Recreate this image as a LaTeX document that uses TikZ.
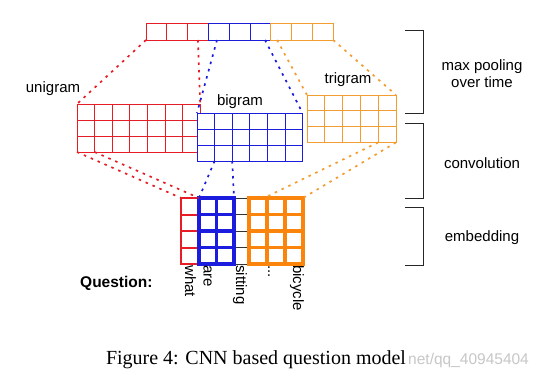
\documentclass[tikz,border=0pt]{standalone}
\usepackage{fontspec}
\setmainfont{Liberation Sans}
\newfontfamily\capfont{Liberation Serif}
\definecolor{myred}{RGB}{232,28,36}
\definecolor{myblue}{RGB}{28,28,222}
\definecolor{myorange}{RGB}{243,156,50}
\definecolor{myorangeD}{RGB}{250,132,12}
\newcommand\mkgrid[8]{%
  \node[#8, fill=white, inner sep=0pt, outer sep=0pt, minimum width={#4*#6*1pt}, minimum height={#5*#7*1pt}, anchor=north west] (#1) at (#2,#3) {};
  \pgfmathtruncatemacro\gnc{#4-1}%
  \pgfmathtruncatemacro\gnr{#5-1}%
  \ifnum\gnc>0 \foreach \gi in {1,...,\gnc} {\draw[#8] ({#2+\gi*#6},#3) -- ({#2+\gi*#6},{#3+#5*#7});}\fi
  \ifnum\gnr>0 \foreach \gi in {1,...,\gnr} {\draw[#8] (#2,{#3+\gi*#7}) -- ({#2+#4*#6},{#3+\gi*#7});}\fi
}
\begin{document}
\begin{tikzpicture}[x=1pt,y=-1pt,
  gR/.style={draw=myred, line width=1pt},
  gB/.style={draw=myblue, line width=1pt},
  gO/.style={draw=myorange, line width=1pt},
  eR/.style={draw=myred, line width=2pt},
  eB/.style={draw=myblue, line width=3.2pt},
  eO/.style={draw=myorangeD, line width=3.2pt},
  conn/.style={line width=1.7pt, dash pattern=on 2.5pt off 5pt},
  lbl/.style={font=\fontsize{15}{18}\selectfont, inner sep=0pt},
  rlbl/.style={font=\fontsize{15}{18}\selectfont, inner sep=0pt, rotate=-90, anchor=base west},
  brk/.style={draw=black!85, line width=1pt}]
\useasboundingbox (0,0) rectangle (545,381);
\fill[white] (0,0) rectangle (545,381);

% convolution grids
\mkgrid{uni}{77}{104}{7}{3}{17.6}{16}{gR}
\mkgrid{bi}{197}{113}{6}{3}{17.6}{16}{gB}
\mkgrid{tri}{307}{95}{5}{3}{17.8}{15.8}{gO}
% pooled vector
\mkgrid{poolR}{146}{23}{3}{1}{20.8}{17}{gR}
\mkgrid{poolB}{208.4}{23}{3}{1}{20.8}{17}{gB}
\mkgrid{poolO}{270.8}{23}{3}{1}{20.8}{17}{gO}
% embedding
\foreach \k in {0,...,4} {\draw[black!80, line width=0.9pt] (233,{198+\k*16.5}) -- (250,{198+\k*16.5});}
\mkgrid{embR}{181}{198}{1}{4}{18}{16.5}{eR}
\mkgrid{embB}{199}{198}{2}{4}{17.5}{16.5}{eB}
\mkgrid{embO}{249}{198}{3}{4}{18}{16.5}{eO}

% named points
\coordinate (pr2) at (198,40);
\coordinate (pb1) at (217,40);
\coordinate (pb2) at (265,40);
\coordinate (po1) at (277,40);
\coordinate (u1) at (94.6,152);
\coordinate (b1) at (214.6,161);
\coordinate (b2) at (232.2,161);
\coordinate (t1) at (378.2,142.4);
\coordinate (eo1) at (264,198);

% connectors
\draw[conn, myred] (poolR.south west) -- (uni.north west);
\draw[conn, myred] (pr2) -- (uni.north east);
\draw[conn, myblue] (pb1) -- (bi.north west);
\draw[conn, myblue] (pb2) -- (bi.north east);
\draw[conn, myorange] (po1) -- (tri.north west);
\draw[conn, myorange] (poolO.south east) -- (tri.north east);
\draw[conn, myred] (uni.south west) -- (embR.north west);
\draw[conn, myred] (u1) -- (embR.north east);
\draw[conn, myblue] (b1) -- (embB.north west);
\draw[conn, myblue] (b2) -- (embB.north east);
\draw[conn, myorange] (t1) -- (eo1);
\draw[conn, myorange] (tri.south east) -- (embO.north east);

% brackets
\draw[brk] (405,30) -- (423,30) -- (423,113) -- (405,113);
\draw[brk] (405,123) -- (423,123) -- (423,198) -- (405,198);
\draw[brk] (405,207) -- (423,207) -- (423,265) -- (405,265);

% labels
\node[lbl, anchor=base] (lu) at (53,92) {unigram};
\node[lbl, anchor=base] (lb) at (240,105) {bigram};
\node[lbl, anchor=base] (lt) at (348,83) {trigram};
\node[lbl, anchor=base] (lm1) at (482,70) {max pooling};
\node[lbl, anchor=base] (lm2) at (482,87) {over time};
\node[lbl, anchor=base] (lc) at (482,168) {convolution};
\node[lbl, anchor=base] (le) at (482,241) {embedding};
\node[lbl, anchor=base west, font=\bfseries\fontsize{15.5}{18}\selectfont] (q) at (80,287) {Question:};
\node[rlbl] (w1) at (185,265) {what};
\node[rlbl] (w2) at (203.5,265) {are};
\node[rlbl] (w3) at (236,265) {sitting};
\node[rlbl] (w4) at (268,265) {...};
\node[rlbl] (w5) at (293,265) {bicycle};

% caption
\node[anchor=base, inner sep=0pt, font=\capfont\fontsize{20}{24}\selectfont] (cap) at (256,364) {Figure 4: CNN based question model};
\node[anchor=base west, inner sep=0pt, text=black!22, font=\fontsize{15.5}{18}\selectfont] (wm) at (408,364) {net/qq\_40945404};
\end{tikzpicture}
\end{document}
